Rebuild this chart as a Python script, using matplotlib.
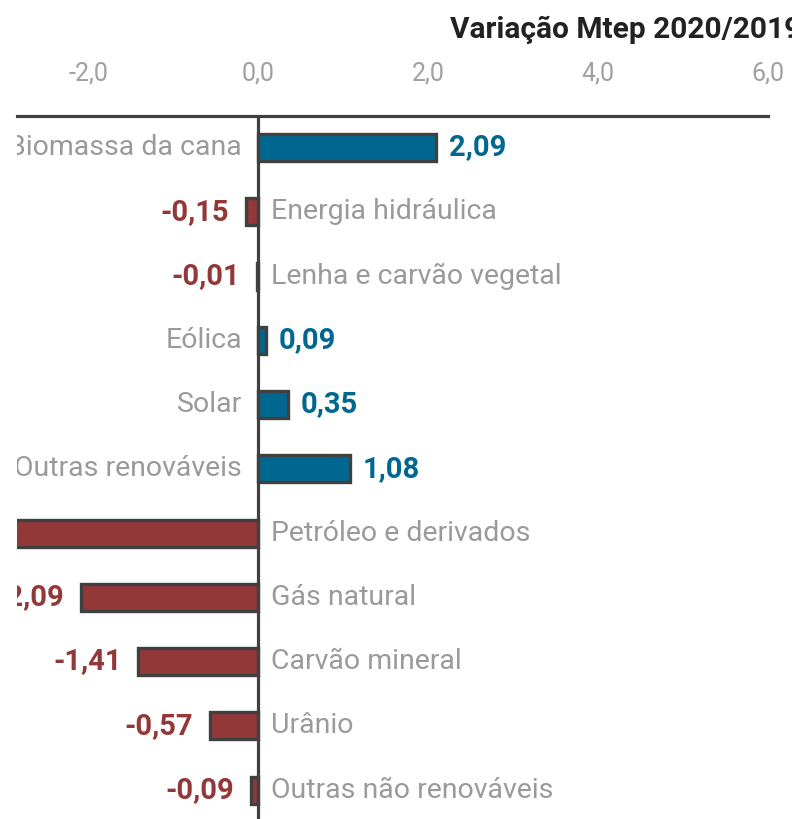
import matplotlib

matplotlib.use("Agg")
matplotlib.rcParams["font.family"] = ["Roboto", "DejaVu Sans"]
import matplotlib.pyplot as plt
from matplotlib.ticker import FuncFormatter

# dados (Mtep, variação 2020/2019)
categorias = [
    "Biomassa da cana",
    "Energia hidráulica",
    "Lenha e carvão vegetal",
    "Eólica",
    "Solar",
    "Outras renováveis",
    "Petróleo e derivados",
    "Gás natural",
    "Carvão mineral",
    "Urânio",
    "Outras não renováveis",
]
variacao = [2.09, -0.15, -0.01, 0.09, 0.35, 1.08, -5.69, -2.09, -1.41, -0.57, -0.09]
ticks_x = [-2.0, 0.0, 2.0, 4.0, 6.0]

AZUL = "#006890"
VERMELHO = "#933838"
CONTORNO = "#404040"
CINZA = "#9a9a9a"


def fmt_br(v, casas=2):
    return f"{v:.{casas}f}".replace(".", ",")


W, H = 792, 819
fig = plt.figure(figsize=(W / 100, H / 100), dpi=100)
ax = fig.add_axes([17 / W, 0, (768 - 17) / W, (H - 116) / H])

ys = list(range(len(categorias)))
cores = [AZUL if v >= 0 else VERMELHO for v in variacao]
ax.barh(ys, variacao, height=0.42, color=cores, edgecolor=CONTORNO, linewidth=2.4, zorder=2)
ax.axvline(0, color=CONTORNO, lw=2.3, zorder=3)

for y, nome, v in zip(ys, categorias, variacao):
    if v >= 0:
        ax.text(-0.19, y, nome, ha="right", va="center", fontsize=20.5, color=CINZA, clip_on=True)
        ax.text(v + 0.15, y, fmt_br(v), ha="left", va="center", fontsize=21,
                fontweight="bold", color=AZUL, clip_on=True)
    else:
        ax.text(0.15, y, nome, ha="left", va="center", fontsize=20.5, color=CINZA, clip_on=True)
        ax.text(v - 0.2, y, fmt_br(v), ha="right", va="center", fontsize=21,
                fontweight="bold", color=VERMELHO, clip_on=True)

ax.set_xlim(-2.84, 6.0)
ax.set_ylim(10.45, -0.49)
ax.set_xticks(ticks_x)
ax.xaxis.set_major_formatter(FuncFormatter(lambda v, p: fmt_br(v, 1)))
ax.tick_params(axis="x", top=True, labeltop=True, bottom=False, labelbottom=False,
               length=0, pad=22, labelsize=18, labelcolor="#a0a0a0")
ax.set_yticks([])
for lado in ("left", "right", "bottom"):
    ax.spines[lado].set_visible(False)
ax.spines["top"].set_color(CONTORNO)
ax.spines["top"].set_linewidth(2.3)

fig.text(450 / W, 1 - 30 / H, "Variação Mtep 2020/2019", ha="left", va="center",
         fontsize=21.5, fontweight="bold", color="#222222")

fig.savefig("out.png", dpi=100, facecolor="white")
plt.close(fig)
